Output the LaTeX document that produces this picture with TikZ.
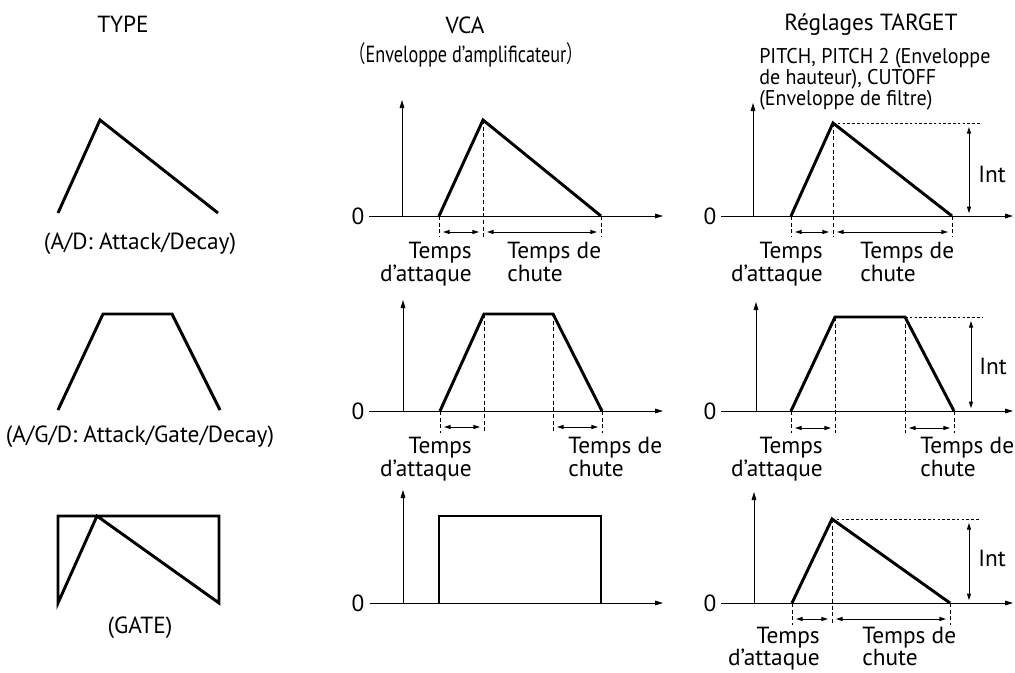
\documentclass[tikz,border=0pt]{standalone}
\usepackage{fontspec}
\setmainfont{PT Sans}
\newfontfamily\narrowfont[FakeStretch=0.78]{PT Sans}
\newfontfamily\subfont[FakeStretch=0.94]{PT Sans}
\newfontfamily\cjk[FakeStretch=0.7]{Noto Sans CJK JP}
\usetikzlibrary{arrows.meta}

\begin{document}
\begin{tikzpicture}[x=0.75pt, y=-0.75pt,
    every node/.style={inner sep=0pt, font=\fontsize{17.5}{17.5}\selectfont},
    env/.style={line width=2.2pt},
    axis/.style={line width=0.75pt, -{Triangle[length=6pt, width=3.5pt]}},
    guide/.style={line width=0.75pt, dash pattern=on 3pt off 2pt},
    level/.style={line width=0.75pt, dash pattern=on 2pt off 1.6pt},
    span/.style={line width=0.75pt, {Triangle[length=5pt, width=3pt]}-{Triangle[length=5pt, width=3pt]}, shorten <=3pt, shorten >=3pt}]
    \useasboundingbox (0,0) rectangle (1015,672);

    % column titles
    \node (type) at (123,24) {TYPE};
    \node (vca) at (465,25) {VCA};
    \node (vcasub) at (466,55) {{\cjk （}\narrowfont Enveloppe d’amplificateur{\cjk ）}};
    \node (target) at (871,25) {Réglages TARGET};
    \node[anchor=north west, align=left, font=\subfont\fontsize{16}{14.6}\selectfont] (targetsub) at (759,48)
        {PITCH, PITCH 2 (Enveloppe\\de hauteur), CUTOFF\\(Enveloppe de filtre)};

    % TYPE
    \draw[env] (58,213) -- (100,120) -- (218,213);
    \node (ad) at (140,244) {(A/D: Attack/Decay)};
    \draw[env] (58,410) -- (103,314) -- (172,314) -- (220,410);
    \node (agd) at (140,437) {(A/G/D: Attack/Gate/Decay)};
    \draw[env] (58,603) -- (97,516) -- (219,603) -- (219,516) -- (58,516) -- cycle;
    \node (gate) at (140,628) {(GATE)};

    % VCA, A/D
    \coordinate (v1a) at (439,216);
    \coordinate (v1p) at (483,120);
    \coordinate (v1e) at (601,216);
    \coordinate (v1t) at (0,232);
    \node (v1z) at (358,216) {0};
    \draw[axis] (369,216) -- (663,216);
    \draw[axis] (402,216) -- (402,100);
    \draw[guide] (v1a) -- ++(0,21);
    \draw[guide] (v1p) -- ++(0,117);
    \draw[guide] (v1e) -- ++(0,21);
    \draw[env] (v1a) -- (v1p) -- (v1e);
    \draw[span] (v1a |- v1t) -- (v1p |- v1t);
    \draw[span] (v1p |- v1t) -- (v1e |- v1t);
    \node[anchor=north east, align=right] (v1at) at (472,242) {Temps\\d’attaque};
    \node[anchor=north west, align=left] (v1dt) at (507,242) {Temps de\\chute};

    % VCA, A/G/D
    \coordinate (v2a) at (440,411);
    \coordinate (v2p) at (484,314);
    \coordinate (v2q) at (553,314);
    \coordinate (v2e) at (602,411);
    \coordinate (v2t) at (0,427);
    \node (v2z) at (358,411) {0};
    \draw[axis] (369,411) -- (663,411);
    \draw[axis] (403,411) -- (403,300);
    \draw[guide] (v2a) -- ++(0,22);
    \draw[guide] (v2p) -- ++(0,119);
    \draw[guide] (v2q) -- ++(0,119);
    \draw[guide] (v2e) -- ++(0,22);
    \draw[env] (v2a) -- (v2p) -- (v2q) -- (v2e);
    \draw[span] (v2a |- v2t) -- (v2p |- v2t);
    \draw[span] (v2q |- v2t) -- (v2e |- v2t);
    \node[anchor=north east, align=right] (v2at) at (472,437) {Temps\\d’attaque};
    \node[anchor=north west, align=left] (v2dt) at (568,437) {Temps de\\chute};

    % VCA, GATE
    \node (v3z) at (358,603) {0};
    \draw[axis] (370,603) -- (663,603);
    \draw[axis] (403,603) -- (403,490);
    \draw[env] (439,603) -- (439,516) -- (601,516) -- (601,603);

    % TARGET, A/D
    \coordinate (t1a) at (791,216);
    \coordinate (t1p) at (833,123);
    \coordinate (t1e) at (952,216);
    \coordinate (t1t) at (0,232);
    \coordinate (t1i) at (969,216);
    \node (t1z) at (710,216) {0};
    \draw[axis] (721,216) -- (1013,216);
    \draw[axis] (753,216) -- (753,103);
    \draw[guide] (t1a) -- ++(0,21);
    \draw[guide] (t1p) -- ++(0,114);
    \draw[guide] (t1e) -- ++(0,21);
    \draw[level] (t1p) -- (980,123);
    \draw[env] (t1a) -- (t1p) -- (t1e);
    \draw[span] (t1a |- t1t) -- (t1p |- t1t);
    \draw[span] (t1p |- t1t) -- (t1e |- t1t);
    \draw[span, shorten >=2pt] (t1i |- t1p) -- (t1i);
    \node (t1int) at (992,174) {Int};
    \node[anchor=north east, align=right] (t1at) at (823,242) {Temps\\d’attaque};
    \node[anchor=north west, align=left] (t1dt) at (860,242) {Temps de\\chute};

    % TARGET, A/G/D
    \coordinate (t2a) at (791,411);
    \coordinate (t2p) at (835,317);
    \coordinate (t2q) at (905,317);
    \coordinate (t2e) at (954,411);
    \coordinate (t2t) at (0,428);
    \coordinate (t2i) at (971,411);
    \node (t2z) at (710,411) {0};
    \draw[axis] (721,411) -- (1013,411);
    \draw[axis] (756,411) -- (756,302);
    \draw[guide] (t2a) -- ++(0,22);
    \draw[guide] (t2p) -- ++(0,116);
    \draw[guide] (t2q) -- ++(0,116);
    \draw[guide] (t2e) -- ++(0,22);
    \draw[level] (t2q) -- (982,317);
    \draw[env] (t2a) -- (t2p) -- (t2q) -- (t2e);
    \draw[span] (t2a |- t2t) -- (t2p |- t2t);
    \draw[span] (t2q |- t2t) -- (t2e |- t2t);
    \draw[span, shorten >=2pt] (t2i |- t2p) -- (t2i);
    \node (t2int) at (993,366) {Int};
    \node[anchor=north east, align=right] (t2at) at (823,437) {Temps\\d’attaque};
    \node[anchor=north west, align=left] (t2dt) at (920,437) {Temps de\\chute};

    % TARGET, GATE
    \coordinate (t3a) at (792,603);
    \coordinate (t3p) at (832,519);
    \coordinate (t3e) at (950,603);
    \coordinate (t3t) at (0,619);
    \coordinate (t3i) at (969,603);
    \node (t3z) at (710,603) {0};
    \draw[axis] (721,603) -- (1013,603);
    \draw[axis] (754,603) -- (754,492);
    \draw[guide] (t3a) -- ++(0,22);
    \draw[guide] (t3p) -- ++(0,106);
    \draw[guide] (t3e) -- ++(0,22);
    \draw[level] (t3p) -- (980,519);
    \draw[env] (t3a) -- (t3p) -- (t3e);
    \draw[span] (t3a |- t3t) -- (t3p |- t3t);
    \draw[span] (t3p |- t3t) -- (t3e |- t3t);
    \draw[span, shorten >=2pt] (t3i |- t3p) -- (t3i);
    \node (t3int) at (992,558) {Int};
    \node[anchor=north east, align=right, font=\fontsize{17.5}{16.5}\selectfont] (t3at) at (820,627) {Temps\\d’attaque};
    \node[anchor=north west, align=left, font=\fontsize{17.5}{16.5}\selectfont] (t3dt) at (862,627) {Temps de\\chute};
\end{tikzpicture}
\end{document}
